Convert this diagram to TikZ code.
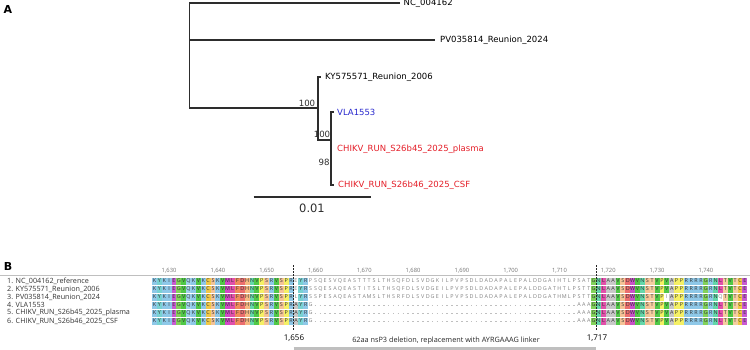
\documentclass[tikz,border=0pt]{standalone}
\usepackage{fontspec}
\setmainfont{DejaVu Sans}
\newfontfamily\alnfont{Open Sans}
\usetikzlibrary{positioning}
\definecolor{treegray}{RGB}{45,45,45}
\definecolor{vlablue}{RGB}{40,40,205}
\definecolor{runred}{RGB}{228,30,40}
% residue colours
\definecolor{aaA}{RGB}{200,200,200}
\definecolor{aaC}{RGB}{240,200,70}
\definecolor{aaD}{RGB}{235,110,110}
\definecolor{aaE}{RGB}{200,90,210}
\definecolor{aaF}{RGB}{240,140,90}
\definecolor{aaG}{RGB}{130,210,90}
\definecolor{aaH}{RGB}{245,185,130}
\definecolor{aaI}{RGB}{142,200,232}
\definecolor{aaK}{RGB}{142,200,232}
\definecolor{aaL}{RGB}{225,80,170}
\definecolor{aaM}{RGB}{210,70,200}
\definecolor{aaN}{RGB}{100,215,170}
\definecolor{aaP}{RGB}{245,240,100}
\definecolor{aaQ}{RGB}{160,210,235}
\definecolor{aaR}{RGB}{142,200,232}
\definecolor{aaS}{RGB}{245,195,150}
\definecolor{aaT}{RGB}{245,205,160}
\definecolor{aaV}{RGB}{80,200,70}
\definecolor{aaW}{RGB}{200,80,200}
\definecolor{aaY}{RGB}{120,210,210}

\newcount\rescol
\def\segA{KYKIEGVQKVKCSKVMLFDHNVPSRVSPR}
\def\segC{NLAAVSDWVNSTVPVAPPRRRRGRNLTVTCE}
\def\gapten{----------}
% upper case = coloured residue, lower case = plain residue, - = gap
\def\alnrow#1#2#3{\def\alnid{#1}\def\alny{#2}\rescol=0
  \edef\alnseq{#3}\expandafter\alnscan\alnseq\relax}
\def\alnscan#1{\ifx#1\relax\else\alnres{#1}\advance\rescol by 1 \expandafter\alnscan\fi}
\def\alnres#1{%
  \pgfmathsetmacro\resx{152+4.88*(\the\rescol+0.5)}%
  \if#1-%
    \draw[gapdash] (\resx-0.8,\alny) -- (\resx+0.8,\alny);
  \else
    \ifnum`#1>96
      \uppercase{\def\resU{#1}}%
      \node[resplain] (r\alnid-\the\rescol) at (\resx,\alny) {\resU};
    \else
      \node[resbox, fill=aa#1] (r\alnid-\the\rescol) at (\resx,\alny) {#1};
    \fi
  \fi}

\begin{document}
\begin{tikzpicture}[x=1pt, y=-1pt,
    branch/.style={line width=1.1pt, treegray},
    tiplabel/.style={inner sep=0pt, font=\fontsize{8.5}{9}\selectfont},
    support/.style={inner sep=0pt, font=\fontsize{8.6}{9}\selectfont, text=treegray},
    panel/.style={inner sep=0pt, font=\fontsize{11}{12}\selectfont\bfseries},
    seqname/.style={anchor=west, inner sep=0pt, font=\alnfont\fontsize{7.2}{8}\selectfont, text=black!80},
    rulerlabel/.style={inner sep=0pt, font=\alnfont\fontsize{5.8}{6}\selectfont, text=black!55},
    resbox/.style={minimum width=4.88pt, minimum height=7pt, inner sep=0pt,
      font=\alnfont\fontsize{5.4}{6}\selectfont, text=black!80},
    resplain/.style={inner sep=0pt, font=\alnfont\fontsize{5.4}{6}\selectfont, text=black!50},
    gapdash/.style={black!25, line width=0.3pt},
    markline/.style={dash pattern=on 1.5pt off 1.5pt, line width=0.5pt, black!85},
    marklabel/.style={inner sep=0pt, font=\alnfont\fontsize{8}{9}\selectfont},
    annotext/.style={inner sep=0pt, font=\alnfont\fontsize{7.3}{8}\selectfont, text=black!85},
    annobar/.style={line width=3pt, black!25}]
  \useasboundingbox (0,0) rectangle (750,350);

  % A: tree
  \node[panel] (panelA) at (8,9) {A};
  \coordinate (rt) at (189.5,3);
  \coordinate (rpv) at (189.5,40);
  \coordinate (rb) at (189.5,108);
  \coordinate (nc) at (400,3);
  \coordinate (pv) at (435,40);
  \coordinate (n1) at (318,108);
  \coordinate (n1t) at (318,77);
  \coordinate (n1b) at (318,140);
  \coordinate (ky) at (320.5,77);
  \coordinate (n2) at (331,140);
  \coordinate (n2t) at (331,112);
  \coordinate (n2b) at (331,185);
  \coordinate (vla) at (333.5,112);
  \coordinate (pl) at (331,149);
  \coordinate (csf) at (333.5,185);
  \draw[branch] (nc) -- (rt) -- (rb) -- (n1);
  \draw[branch] (rpv) -- (pv);
  \draw[branch] (ky) -- (n1t) -- (n1b) -- (n2);
  \draw[branch] (vla) -- (n2t) -- (n2b) -- (csf);
  \node[tiplabel, anchor=west, right=3.5pt of nc] (nclab) {NC\_004162};
  \node[tiplabel, anchor=west, right=5pt of pv] (pvlab) {PV035814\_Reunion\_2024};
  \node[tiplabel, anchor=west, right=4.5pt of ky] (kylab) {KY575571\_Reunion\_2006};
  \node[tiplabel, anchor=west, right=3.5pt of vla, text=vlablue] (vlalab) {VLA1553};
  \node[tiplabel, anchor=west, right=6pt of pl, text=runred] (pllab) {CHIKV\_RUN\_S26b45\_2025\_plasma};
  \node[tiplabel, anchor=west, right=4.5pt of csf, text=runred] (csflab) {CHIKV\_RUN\_S26b46\_2025\_CSF};
  \node[support] (bs1) at (307,103) {100};
  \node[support] (bs2) at (322,134.5) {100};
  \node[support] (bs3) at (324,162) {98};
  \coordinate (sbl) at (253.5,197);
  \coordinate (sbr) at (370.5,197);
  \draw[branch, line width=1pt] (sbl) -- (sbr);
  \node[inner sep=0pt, font=\fontsize{11.5}{12}\selectfont, text=treegray] (sblab) at (312,208) {0.01};

  % B: alignment
  \node[panel] (panelB) at (8,266) {B};
  \coordinate (rulel) at (0,275.5);
  \coordinate (ruler) at (750,275.5);
  \draw[black!25, line width=0.5pt] (rulel) -- (ruler);
  \foreach \p in {1630,1640,...,1740} {
    \pgfmathsetmacro\tx{152+4.88*(\p-1627+0.5)}
    \pgfmathtruncatemacro\pk{\p-1000}
    \node[rulerlabel] (pos\p) at (\tx,270.5) {1,\pk};
  }
  \foreach \i/\t in {1/NC\_004162\_reference, 2/KY575571\_Reunion\_2006,
      3/PV035814\_Reunion\_2024, 4/VLA1553, 5/CHIKV\_RUN\_S26b45\_2025\_plasma,
      6/CHIKV\_RUN\_S26b46\_2025\_CSF}
    \node[seqname] (seqname\i) at (7,281+8*\i-8) {\i. \t};
  \alnrow{1}{281}{\segA eYRpsqesvqeastttslthsqfdlsvdgkilpvpsdldadapalepalddgaihtlpsatG\segC}
  \alnrow{2}{289}{\segA eYRssqesaqeastitslthsqfdlsvdgeilpvpsdldadapalepalddgathtlpsttG\segC}
  \alnrow{3}{297}{\segA lYRsspesaqeastamslthsrfdlsvdgeilpvpsdldadapalepalddgathmlpsttGNLAAVSDWVNSTVPiAPPRRRRGRNqTVTCE}
  \alnrow{4}{305}{\segA AYRg\gapten\gapten\gapten\gapten\gapten----aaaG\segC}
  \alnrow{5}{313}{\segA AYRg\gapten\gapten\gapten\gapten\gapten----aaaG\segC}
  \alnrow{6}{321}{\segA AYRg\gapten\gapten\gapten\gapten\gapten----aaaG\segC}

  % deletion markers
  \coordinate (delLt) at (293.5,265);
  \coordinate (delLb) at (293.5,331);
  \coordinate (delRt) at (596.1,265);
  \coordinate (delRb) at (596.1,331);
  \draw[markline] (delLt) -- (delLb);
  \draw[markline] (delRt) -- (delRb);
  \node[marklabel] (lab1656) at (294,338.5) {1,656};
  \node[marklabel] (lab1717) at (597,338.5) {1,717};
  \node[annotext] (delnote) at (446,341) {62aa nsP3 deletion, replacement with AYRGAAAG linker};
  \coordinate (barL) at (293.5,348.5);
  \coordinate (barR) at (596.1,348.5);
  \draw[annobar] (barL) -- (barR);
\end{tikzpicture}
\end{document}
